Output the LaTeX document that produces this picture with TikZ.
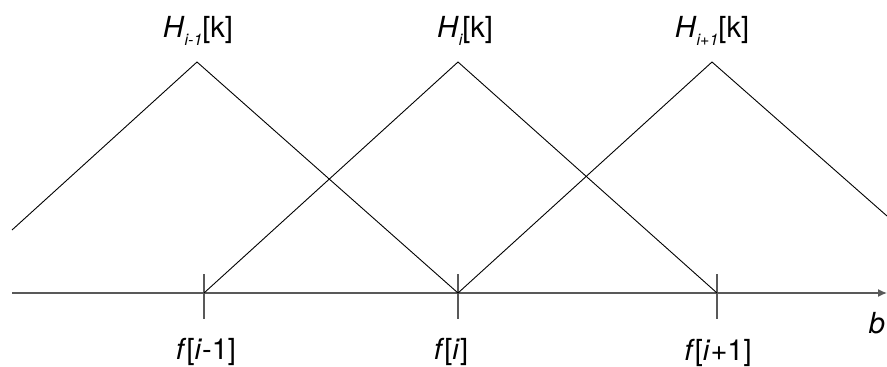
\documentclass[tikz,border=0pt]{standalone}
\usepackage{fontspec}
\setmainfont{TeX Gyre Heros}
\usetikzlibrary{arrows.meta}
\newcommand{\subi}[1]{\raisebox{-0.28em}{\fontsize{16}{16}\selectfont\itshape #1}}
\begin{document}
\begin{tikzpicture}[x=1pt,y=-1pt,
  tri/.style={line width=0.9pt,black},
  axisline/.style={line width=1.4pt,black!65,-{Latex[length=9pt,width=8pt]}},
  tickline/.style={line width=1.1pt,black!65},
  lab/.style={anchor=base,inner sep=0pt,font=\fontsize{29}{29}\selectfont}]
\useasboundingbox (0,0) rectangle (887,367);
% axis
\coordinate (a0) at (12,293);
\coordinate (a1) at (887,293);
\draw[axisline] (a0) -- (a1);
% ticks
\coordinate (f0) at (204,293);
\coordinate (f1) at (458,293);
\coordinate (f2) at (717,293);
\foreach \n/\x in {t0/204,t1/458,t2/717}{
  \coordinate (\n a) at (\x,274);
  \coordinate (\n b) at (\x,319);
  \draw[tickline] (\n a) -- (\n b);
}
% triangles
\coordinate (l0) at (12,230);
\coordinate (p0) at (197,62);
\coordinate (p1) at (458,62);
\coordinate (p2) at (712,62);
\coordinate (r2) at (887,216);
\draw[tri] (l0) -- (p0) -- (f1);
\draw[tri] (f0) -- (p1) -- (f2);
\draw[tri] (f1) -- (p2) -- (r2);
% labels
\node[lab] (h0) at (198,37) {\textit{H}\subi{i-1}[k]};
\node[lab] (h1) at (465,37) {\textit{H}\subi{i}[k]};
\node[lab] (h2) at (712,37) {\textit{H}\subi{i+1}[k]};
\node[lab] (g0) at (206,359) {\textit{f}[\textit{i}-1]};
\node[lab] (g1) at (451,359) {\textit{f}[\textit{i}]};
\node[lab] (g2) at (718,360) {\textit{f}[\textit{i}+1]};
\node[lab] (bl) at (877,333) {\textit{b}};
\end{tikzpicture}
\end{document}
